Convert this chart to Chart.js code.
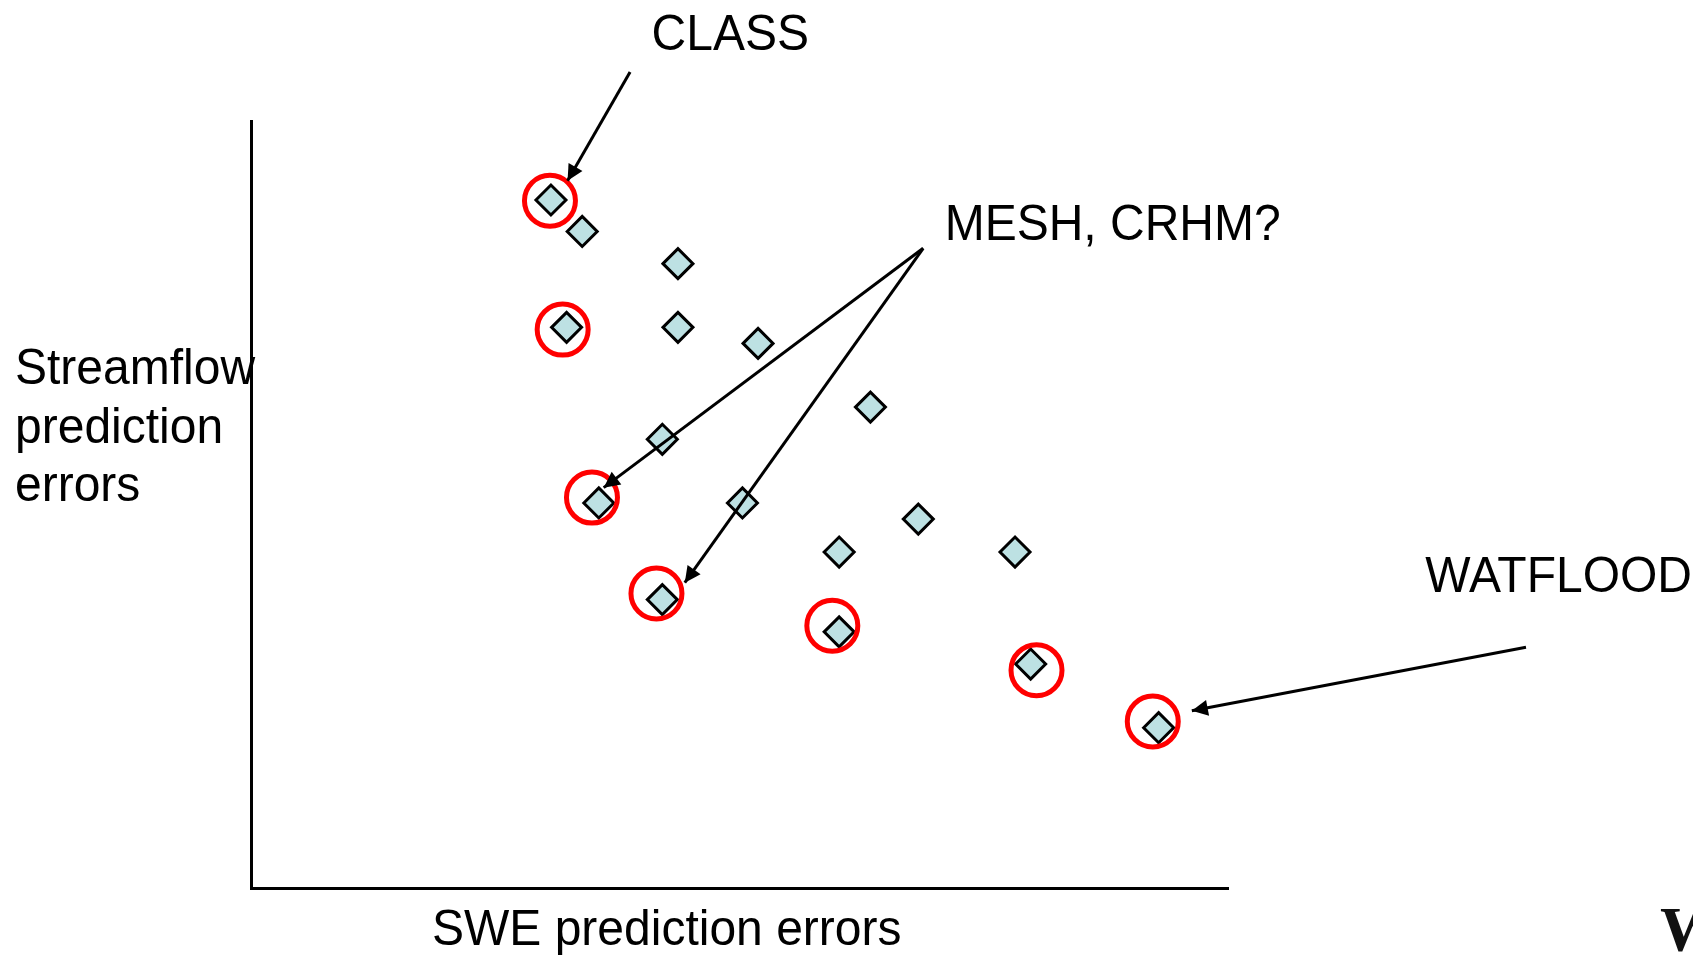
<!DOCTYPE html>
<html>
<head>
<meta charset="utf-8">
<title>Streamflow vs SWE prediction errors</title>
<script src="https://cdn.jsdelivr.net/npm/chart.js@4.4.1/dist/chart.umd.min.js"></script>
<style>
  html, body { margin: 0; padding: 0; background: #fff; }
</style>
</head>
<body>
<canvas id="chart" width="1693" height="957"></canvas>
<script>
// ============================
// DATA
// ============================
// model runs (diamonds), arbitrary 0-10 error units
const modelX = [3.07, 3.39, 4.37, 3.23, 4.37, 5.19, 6.34, 4.21, 3.56, 5.03, 6.83, 6.02, 7.82, 4.21, 6.02, 7.98, 9.29];
const modelY = [8.97, 8.56, 8.14, 7.31, 7.31, 7.10, 6.27, 5.85, 5.02, 5.02, 4.81, 4.38, 4.38, 3.76, 3.34, 2.92, 2.09];

// red circles round the highlighted runs
const circledX = [3.06, 3.19, 3.49, 4.15, 5.95, 8.04, 9.23];
const circledY = [8.96, 7.28, 5.09, 3.84, 3.42, 2.84, 2.17];

// callout arrows: from label to point
const arrowFromX = [3.88, 6.88, 6.88, 13.05];
const arrowFromY = [10.64, 8.34, 8.34, 3.14];
const arrowToX   = [3.24, 3.61, 4.44, 9.63];
const arrowToY   = [9.22, 5.22, 3.98, 2.31];

// callout labels (left / baseline)
const labelText = ["CLASS", "MESH, CRHM?", "WATFLOOD"];
const labelX = [4.10, 7.10, 12.02];
const labelY = [10.93, 8.45, 3.86];

const yTitleLines = ["Streamflow", "prediction", "errors"];
const xTitle = "SWE prediction errors";

// ============================
// STYLE
// ============================
const FONT = '48px "Liberation Sans", Arial, sans-serif';
const STRETCH = 1.03;

function drawText(ctx, txt, x, y){
  ctx.save();
  ctx.translate(x, y);
  ctx.scale(1, STRETCH);
  ctx.fillText(txt, 0, 0);
  ctx.restore();
}

// ============================
// PLUGINS
// ============================
const arrowHeads = {
  id: "arrowHeads",
  afterDatasetsDraw(chart){
    const ctx = chart.ctx;
    chart.data.datasets.forEach((ds, i) => {
      if(!ds.arrow) return;
      const pts = chart.getDatasetMeta(i).data;
      const a = pts[0], b = pts[1];
      const ang = Math.atan2(b.y - a.y, b.x - a.x);
      const len = 16, half = 8;
      ctx.save();
      ctx.translate(b.x, b.y);
      ctx.rotate(ang);
      ctx.beginPath();
      ctx.moveTo(0, 0);
      ctx.lineTo(-len, -half);
      ctx.lineTo(-len, half);
      ctx.closePath();
      ctx.fillStyle = "#000";
      ctx.fill();
      ctx.restore();
    });
  }
};

const textLayer = {
  id: "textLayer",
  afterDraw(chart){
    const ctx = chart.ctx;
    const xs = chart.scales.x, ys = chart.scales.y;
    const area = chart.chartArea;
    ctx.save();
    ctx.fillStyle = "#000";
    ctx.font = FONT;
    ctx.textAlign = "left";
    ctx.textBaseline = "alphabetic";

    labelText.forEach((t, i) => {
      drawText(ctx, t, xs.getPixelForValue(labelX[i]), ys.getPixelForValue(labelY[i]));
    });

    // y axis title, horizontal, left of the axis
    yTitleLines.forEach((t, i) => {
      drawText(ctx, t, 15, area.top + 263 + i * 58.5);
    });

    // x axis title
    drawText(ctx, xTitle, area.left + 181, area.bottom + 57);

    // clipped serif letter at the bottom right edge
    ctx.font = 'bold 64px "Liberation Serif", "Times New Roman", serif';
    ctx.fillStyle = "#111";
    ctx.fillText("W", 1660, 951);
    ctx.restore();
  }
};

// ============================
// CHART
// ============================
const datasets = [];

arrowFromX.forEach((x, i) => {
  datasets.push({
    type: "line",
    arrow: true,
    data: [{x: x, y: arrowFromY[i]}, {x: arrowToX[i], y: arrowToY[i]}],
    borderColor: "#000",
    borderWidth: 3,
    pointRadius: 0,
    fill: false,
    clip: false,
    order: 0
  });
});

datasets.push({
  label: "highlighted",
  data: circledX.map((x, i) => ({x: x, y: circledY[i]})),
  pointStyle: "circle",
  pointRadius: 25.5,
  pointBorderWidth: 5,
  pointBorderColor: "#ff0000",
  pointBackgroundColor: "rgba(0,0,0,0)",
  clip: false,
  order: 1
});

datasets.push({
  label: "models",
  data: modelX.map((x, i) => ({x: x, y: modelY[i]})),
  pointStyle: "rectRot",
  pointRadius: 15,
  pointBorderWidth: 3,
  pointBorderColor: "#000",
  pointBackgroundColor: "#bde1e3",
  clip: false,
  order: 2
});

new Chart(document.getElementById("chart"), {
  type: "scatter",
  data: { datasets: datasets },
  options: {
    responsive: false,
    animation: false,
    events: [],
    layout: {
      autoPadding: false,
      padding: { left: 251, top: 121, right: 465, bottom: 69 }
    },
    plugins: {
      legend: { display: false },
      tooltip: { enabled: false }
    },
    scales: {
      x: {
        type: "linear", min: 0, max: 10,
        grid: { display: false, drawTicks: false },
        ticks: { display: false },
        border: { color: "#000", width: 3 }
      },
      y: {
        type: "linear", min: 0, max: 10,
        grid: { display: false, drawTicks: false },
        ticks: { display: false },
        border: { color: "#000", width: 3 }
      }
    }
  },
  plugins: [arrowHeads, textLayer]
});
</script>
</body>
</html>
